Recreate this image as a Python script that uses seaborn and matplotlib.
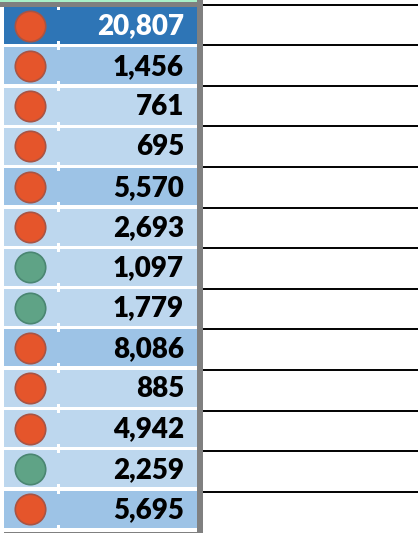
import matplotlib.pyplot as plt
import pandas as pd
import seaborn as sns
from matplotlib.patches import Rectangle

values = [20807, 1456, 761, 695, 5570, 2693, 1097, 1779, 8086, 885, 4942, 2259, 5695]
status = ["red", "red", "red", "red", "red", "red", "green", "green",
          "red", "red", "red", "green", "red"]
# row shading: 0 = header/total, 1 = group subtotal, 2 = detail row
level = [0, 1, 2, 2, 1, 2, 2, 2, 1, 2, 2, 2, 1]

FILL = {0: "#2E75B6", 1: "#9DC3E6", 2: "#BDD7EE"}
TEXT = {0: "white", 1: "black", 2: "black"}
DOT = {"red": "#E5552B", "green": "#5FA386"}
DOT_EDGE = {"red": "#A85444", "green": "#4A8672"}

W, H = 418, 533
ROW_TOP, PITCH, ROW_H = 7, 40.3, 37.0

df = pd.DataFrame({"value": values, "status": status, "level": level})
df["row"] = range(len(df))
df["yc"] = ROW_TOP + df["row"] * PITCH + ROW_H / 2
df["xc"] = 30

sns.set_theme(style="white")
plt.rcParams["font.family"] = ["Lato", "DejaVu Sans"]

fig = plt.figure(figsize=(W / 100, H / 100), dpi=100)
ax = fig.add_axes([0, 0, 1, 1])
ax.set_xlim(0, W)
ax.set_ylim(H, 0)
ax.axis("off")

# top strip and frame
ax.add_patch(Rectangle((0, 0), 197, 2.2, color="#A8F0C8", lw=0))
ax.add_patch(Rectangle((0, 2.2), 197, 4.8, color="#7F7F7F", lw=0))
ax.add_patch(Rectangle((197, 0), 6, H, color="#808080", lw=0))
ax.add_patch(Rectangle((4, 531.5), 193, 2, color="#808080", lw=0))

# row fills
for _, r in df.iterrows():
    top = ROW_TOP + r["row"] * PITCH
    ax.add_patch(Rectangle((4, top), 193, ROW_H, color=FILL[r["level"]], lw=0))
    # little column notch
    ax.add_patch(Rectangle((57.3, top), 2.7, 3, color="white", lw=0))
    ax.add_patch(Rectangle((57.3, top + ROW_H - 3), 2.7, 3, color="white", lw=0))

# right-hand grid lines
for k in range(len(values)):
    ax.plot([203, W], [4.5 + k * 40.6] * 2, color="black", lw=1.4, solid_capstyle="butt")

# status dots
for st in ["red", "green"]:
    sub = df[df["status"] == st]
    sns.scatterplot(data=sub, x="xc", y="yc", ax=ax, s=480, color=DOT[st],
                    edgecolor=DOT_EDGE[st], linewidth=1.2, legend=False, zorder=3)

# values
for _, r in df.iterrows():
    ax.text(184, r["yc"] + 1, f"{r['value']:,}", ha="right", va="center",
            fontsize=20, fontweight="heavy", color=TEXT[r["level"]])

ax.set_xlim(0, W)
ax.set_ylim(H, 0)
fig.savefig("out.png", dpi=100)
